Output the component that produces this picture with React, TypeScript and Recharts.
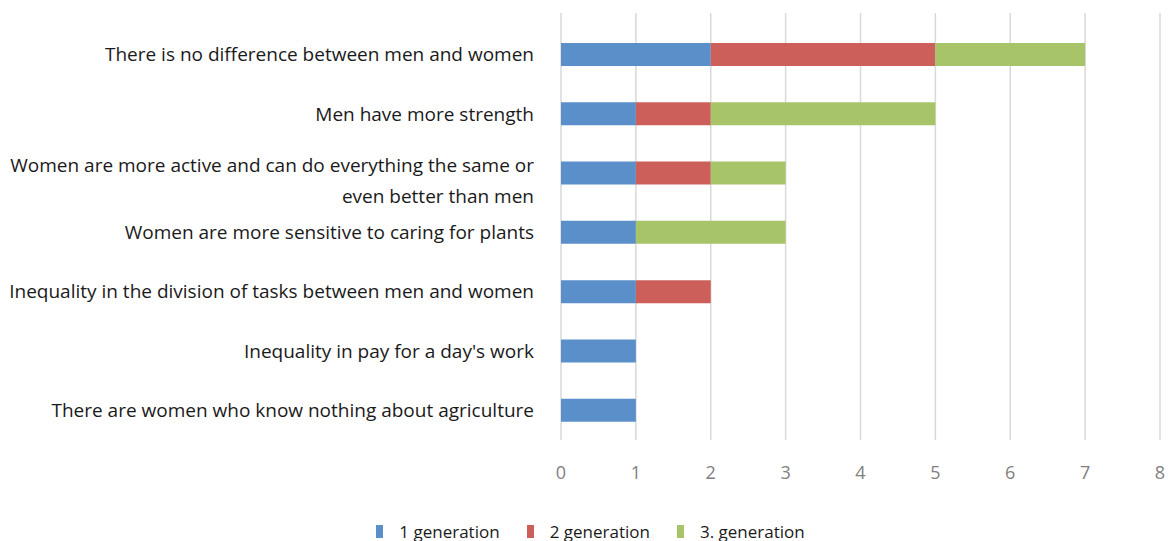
import React from "react";
import {
  BarChart,
  Bar,
  XAxis,
  YAxis,
  CartesianGrid,
  Legend,
} from "recharts";

const categories = [
  "There is no difference between men and women",
  "Men have more strength",
  "Women are more active and can do everything the same or\neven better than men",
  "Women are more sensitive to caring for plants",
  "Inequality in the division of tasks between men and women",
  "Inequality in pay for a day's work",
  "There are women who know nothing about agriculture",
];

const gen1 = [2, 1, 1, 1, 1, 1, 1];
const gen2 = [3, 1, 1, 0, 1, 0, 0];
const gen3 = [2, 3, 1, 2, 0, 0, 0];

const xTicks = [0, 1, 2, 3, 4, 5, 6, 7, 8];

const seriesNames = ["1 generation", "2 generation", "3. generation"];
const colors = ["#5B8FC9", "#CD5F5A", "#A8C469"];

const data = categories.map((name, i) => ({
  name,
  g1: gen1[i],
  g2: gen2[i],
  g3: gen3[i],
}));

const FONT = "'Open Sans', sans-serif";

function CategoryTick(props: any) {
  const { x, y, payload } = props;
  const lines: string[] = String(payload.value).split("\n");
  if (lines.length === 1) {
    return (
      <text
        x={x}
        y={y}
        dy="0.35em"
        textAnchor="end"
        fill="#1a1a1a"
        fontSize={19}
        fontFamily={FONT}
      >
        {lines[0]}
      </text>
    );
  }
  return (
    <text
      x={x}
      y={y}
      textAnchor="end"
      fill="#1a1a1a"
      fontSize={19}
      fontFamily={FONT}
    >
      {lines.map((l, i) => (
        <tspan key={i} x={x} dy={i === 0 ? -1 : 31}>
          {l}
        </tspan>
      ))}
    </text>
  );
}

function LegendContent() {
  return (
    <div
      style={{
        height: 20,
        display: "flex",
        justifyContent: "center",
        alignItems: "center",
        fontFamily: FONT,
        fontSize: 17,
        color: "#1a1a1a",
        paddingLeft: 48,
      }}
    >
      {seriesNames.map((n, i) => (
        <div
          key={n}
          style={{ display: "flex", alignItems: "center", marginRight: 27 }}
        >
          <span
            style={{
              display: "inline-block",
              width: 7,
              height: 13,
              background: colors[i],
              marginRight: 16,
            }}
          />
          <span>{n}</span>
        </div>
      ))}
    </div>
  );
}

export default function App() {
  return (
    <div style={{ position: "absolute", left: 0, top: 0 }}>
      <BarChart
        width={1168}
        height={541}
        data={data}
        layout="vertical"
        margin={{ top: 13, right: 8, bottom: 0, left: 0 }}
        barSize={23}
      >
        <CartesianGrid horizontal={false} stroke="#d9d9d9" strokeWidth={1.5} />
        <XAxis
          type="number"
          domain={[0, 8]}
          ticks={xTicks}
          axisLine={false}
          tickLine={false}
          tickMargin={20}
          height={81}
          tick={{ fill: "#808080", fontSize: 18, fontFamily: FONT }}
          interval={0}
        />
        <YAxis
          type="category"
          dataKey="name"
          width={561}
          axisLine={false}
          tickLine={false}
          tickMargin={21}
          padding={{ top: 12, bottom: 0 }}
          tick={<CategoryTick />}
          interval={0}
        />
        <Legend verticalAlign="bottom" content={<LegendContent />} />
        <Bar dataKey="g1" name={seriesNames[0]} stackId="a" fill={colors[0]} isAnimationActive={false} />
        <Bar dataKey="g2" name={seriesNames[1]} stackId="a" fill={colors[1]} isAnimationActive={false} />
        <Bar dataKey="g3" name={seriesNames[2]} stackId="a" fill={colors[2]} isAnimationActive={false} />
      </BarChart>
    </div>
  );
}
